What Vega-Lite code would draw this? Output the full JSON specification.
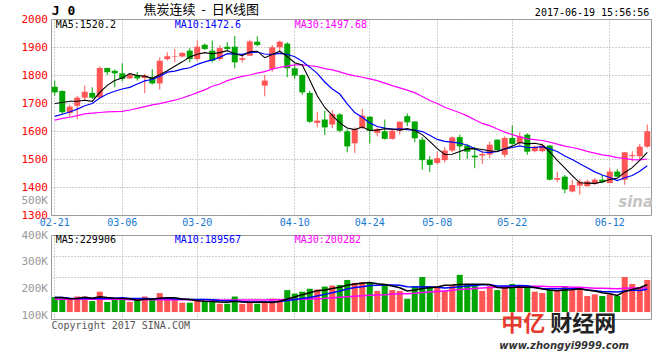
{
"$schema": "https://vega.github.io/schema/vega-lite/v6.json",
"background": "white",
"padding": {"left": 20, "top": 3, "right": 5, "bottom": 5},
"spacing": 20,
"bounds": "flush",
"datasets": {"k": [
{"d":"02-21","o":1758,"h":1780,"l":1726,"c":1738,"m5":1698,"m10":1652,"m30":1639,"v":168000,"v5":166000,"v10":166000,"v30":160000},
{"d":"02-22","o":1743,"h":1745,"l":1658,"c":1667,"m5":1702,"m10":1660,"m30":1645,"v":166000,"v5":166000,"v10":166000,"v30":160000},
{"d":"02-23","o":1664,"h":1693,"l":1651,"c":1687,"m5":1706,"m10":1668,"m30":1649,"v":163000,"v5":162000,"v10":164000,"v30":160000},
{"d":"02-24","o":1690,"h":1726,"l":1643,"c":1719,"m5":1706,"m10":1678,"m30":1655,"v":170000,"v5":163000,"v10":163000,"v30":160000},
{"d":"02-27","o":1719,"h":1762,"l":1708,"c":1740,"m5":1710,"m10":1690,"m30":1661,"v":170000,"v5":167000,"v10":163000,"v30":160000},
{"d":"02-28","o":1736,"h":1756,"l":1714,"c":1719,"m5":1706,"m10":1698,"m30":1664,"v":153000,"v5":164000,"v10":163000,"v30":160000},
{"d":"03-01","o":1720,"h":1831,"l":1718,"c":1825,"m5":1738,"m10":1718,"m30":1666,"v":188000,"v5":169000,"v10":163000,"v30":160000},
{"d":"03-02","o":1825,"h":1826,"l":1800,"c":1810,"m5":1763,"m10":1732,"m30":1668,"v":150000,"v5":166000,"v10":163000,"v30":160000},
{"d":"03-03","o":1815,"h":1820,"l":1756,"c":1806,"m5":1780,"m10":1742,"m30":1669,"v":160000,"v5":164000,"v10":164000,"v30":160000},
{"d":"03-06","o":1806,"h":1842,"l":1777,"c":1786,"m5":1789,"m10":1750,"m30":1670,"v":163000,"v5":163000,"v10":165000,"v30":160000},
{"d":"03-07","o":1788,"h":1807,"l":1786,"c":1800,"m5":1805,"m10":1756,"m30":1675,"v":150000,"v5":162000,"v10":163000,"v30":158000},
{"d":"03-08","o":1800,"h":1810,"l":1780,"c":1788,"m5":1798,"m10":1768,"m30":1681,"v":158000,"v5":156000,"v10":163000,"v30":158000},
{"d":"03-09","o":1789,"h":1804,"l":1735,"c":1798,"m5":1796,"m10":1779,"m30":1687,"v":170000,"v5":160000,"v10":163000,"v30":158000},
{"d":"03-10","o":1792,"h":1821,"l":1766,"c":1770,"m5":1788,"m10":1784,"m30":1693,"v":158000,"v5":160000,"v10":162000,"v30":158000},
{"d":"03-13","o":1770,"h":1863,"l":1748,"c":1851,"m5":1801,"m10":1795,"m30":1698,"v":183000,"v5":164000,"v10":163000,"v30":158000},
{"d":"03-14","o":1857,"h":1881,"l":1851,"c":1867,"m5":1815,"m10":1810,"m30":1704,"v":158000,"v5":165000,"v10":164000,"v30":158000},
{"d":"03-15","o":1866,"h":1893,"l":1845,"c":1868,"m5":1831,"m10":1814,"m30":1710,"v":158000,"v5":165000,"v10":161000,"v30":158000},
{"d":"03-16","o":1866,"h":1881,"l":1863,"c":1879,"m5":1847,"m10":1821,"m30":1718,"v":147000,"v5":161000,"v10":161000,"v30":158000},
{"d":"03-17","o":1887,"h":1896,"l":1845,"c":1857,"m5":1864,"m10":1826,"m30":1727,"v":147000,"v5":159000,"v10":159000,"v30":158000},
{"d":"03-20","o":1857,"h":1923,"l":1851,"c":1901,"m5":1874,"m10":1838,"m30":1737,"v":158000,"v5":154000,"v10":159000,"v30":158000},
{"d":"03-21","o":1908,"h":1912,"l":1890,"c":1893,"m5":1880,"m10":1847,"m30":1747,"v":152000,"v5":152000,"v10":159000,"v30":158000},
{"d":"03-22","o":1887,"h":1923,"l":1845,"c":1851,"m5":1876,"m10":1854,"m30":1760,"v":150000,"v5":151000,"v10":158000,"v30":157000},
{"d":"03-23","o":1857,"h":1905,"l":1851,"c":1896,"m5":1880,"m10":1863,"m30":1768,"v":143000,"v5":150000,"v10":155000,"v30":157000},
{"d":"03-24","o":1901,"h":1917,"l":1887,"c":1893,"m5":1887,"m10":1876,"m30":1780,"v":143000,"v5":149000,"v10":154000,"v30":157000},
{"d":"03-27","o":1901,"h":1940,"l":1824,"c":1845,"m5":1876,"m10":1875,"m30":1788,"v":170000,"v5":152000,"v10":153000,"v30":157000},
{"d":"03-28","o":1854,"h":1871,"l":1845,"c":1860,"m5":1869,"m10":1874,"m30":1795,"v":142000,"v5":150000,"v10":151000,"v30":157000},
{"d":"03-29","o":1869,"h":1926,"l":1867,"c":1920,"m5":1883,"m10":1880,"m30":1800,"v":148000,"v5":149000,"v10":150000,"v30":157000},
{"d":"03-30","o":1919,"h":1938,"l":1902,"c":1907,"m5":1885,"m10":1882,"m30":1807,"v":143000,"v5":149000,"v10":150000,"v30":157000},
{"d":"03-31","o":1762,"h":1800,"l":1724,"c":1780,"m5":1862,"m10":1875,"m30":1812,"v":147000,"v5":150000,"v10":150000,"v30":157000},
{"d":"04-05","o":1822,"h":1907,"l":1812,"c":1899,"m5":1873,"m10":1874,"m30":1821,"v":162000,"v5":148000,"v10":150000,"v30":158000},
{"d":"04-06","o":1899,"h":1923,"l":1881,"c":1919,"m5":1885,"m10":1877,"m30":1827,"v":158000,"v5":152000,"v10":151000,"v30":158000},
{"d":"04-07","o":1912,"h":1917,"l":1792,"c":1824,"m5":1866,"m10":1874,"m30":1832,"v":194000,"v5":161000,"v10":155000,"v30":159000},
{"d":"04-10","o":1824,"h":1842,"l":1786,"c":1798,"m5":1844,"m10":1865,"m30":1836,"v":181000,"v5":168000,"v10":159000,"v30":159000},
{"d":"04-11","o":1800,"h":1802,"l":1729,"c":1738,"m5":1836,"m10":1849,"m30":1836,"v":188000,"v5":177000,"v10":163000,"v30":160000},
{"d":"04-12","o":1736,"h":1744,"l":1629,"c":1633,"m5":1782,"m10":1828,"m30":1833,"v":199000,"v5":184000,"v10":166000,"v30":161000},
{"d":"04-13","o":1629,"h":1669,"l":1613,"c":1637,"m5":1726,"m10":1806,"m30":1830,"v":196000,"v5":192000,"v10":172000,"v30":162000},
{"d":"04-14","o":1641,"h":1672,"l":1586,"c":1613,"m5":1684,"m10":1775,"m30":1823,"v":207000,"v5":194000,"v10":178000,"v30":163000},
{"d":"04-17","o":1623,"h":1675,"l":1610,"c":1661,"m5":1656,"m10":1750,"m30":1818,"v":211000,"v5":200000,"v10":184000,"v30":165000},
{"d":"04-18","o":1659,"h":1664,"l":1595,"c":1601,"m5":1629,"m10":1732,"m30":1811,"v":213000,"v5":205000,"v10":191000,"v30":167000},
{"d":"04-19","o":1599,"h":1607,"l":1524,"c":1545,"m5":1611,"m10":1697,"m30":1803,"v":232000,"v5":212000,"v10":198000,"v30":169000},
{"d":"04-20","o":1556,"h":1613,"l":1522,"c":1607,"m5":1605,"m10":1666,"m30":1797,"v":221000,"v5":217000,"v10":204000,"v30":171000},
{"d":"04-21","o":1611,"h":1679,"l":1607,"c":1655,"m5":1614,"m10":1649,"m30":1792,"v":224000,"v5":220000,"v10":207000,"v30":173000},
{"d":"04-24","o":1651,"h":1652,"l":1556,"c":1601,"m5":1602,"m10":1629,"m30":1786,"v":221000,"v5":222000,"v10":211000,"v30":175000},
{"d":"04-25","o":1593,"h":1613,"l":1581,"c":1607,"m5":1603,"m10":1616,"m30":1780,"v":191000,"v5":218000,"v10":212000,"v30":176000},
{"d":"04-26","o":1599,"h":1641,"l":1569,"c":1572,"m5":1608,"m10":1610,"m30":1771,"v":217000,"v5":215000,"v10":213000,"v30":177000},
{"d":"04-27","o":1572,"h":1604,"l":1569,"c":1601,"m5":1607,"m10":1606,"m30":1762,"v":194000,"v5":209000,"v10":213000,"v30":179000},
{"d":"04-28","o":1601,"h":1634,"l":1587,"c":1633,"m5":1603,"m10":1608,"m30":1754,"v":191000,"v5":203000,"v10":212000,"v30":180000},
{"d":"05-02","o":1653,"h":1662,"l":1617,"c":1631,"m5":1609,"m10":1605,"m30":1746,"v":161000,"v5":191000,"v10":207000,"v30":180000},
{"d":"05-03","o":1634,"h":1635,"l":1560,"c":1574,"m5":1602,"m10":1603,"m30":1737,"v":209000,"v5":194000,"v10":206000,"v30":182000},
{"d":"05-04","o":1569,"h":1578,"l":1462,"c":1496,"m5":1587,"m10":1598,"m30":1723,"v":243000,"v5":200000,"v10":207000,"v30":185000},
{"d":"05-05","o":1498,"h":1510,"l":1453,"c":1479,"m5":1563,"m10":1585,"m30":1709,"v":209000,"v5":203000,"v10":206000,"v30":187000},
{"d":"05-08","o":1486,"h":1527,"l":1480,"c":1503,"m5":1537,"m10":1570,"m30":1698,"v":209000,"v5":206000,"v10":205000,"v30":189000},
{"d":"05-09","o":1496,"h":1542,"l":1488,"c":1530,"m5":1516,"m10":1563,"m30":1685,"v":191000,"v5":212000,"v10":202000,"v30":191000},
{"d":"05-10","o":1530,"h":1581,"l":1524,"c":1577,"m5":1517,"m10":1560,"m30":1675,"v":213000,"v5":213000,"v10":204000,"v30":193000},
{"d":"05-11","o":1578,"h":1587,"l":1496,"c":1545,"m5":1527,"m10":1557,"m30":1665,"v":251000,"v5":215000,"v10":207000,"v30":196000},
{"d":"05-12","o":1548,"h":1554,"l":1500,"c":1526,"m5":1536,"m10":1549,"m30":1654,"v":217000,"v5":216000,"v10":209000,"v30":198000},
{"d":"05-15","o":1512,"h":1544,"l":1467,"c":1506,"m5":1537,"m10":1537,"m30":1640,"v":209000,"v5":216000,"v10":211000,"v30":200000},
{"d":"05-16","o":1512,"h":1530,"l":1482,"c":1518,"m5":1534,"m10":1525,"m30":1627,"v":191000,"v5":216000,"v10":214000,"v30":202000},
{"d":"05-17","o":1516,"h":1562,"l":1503,"c":1551,"m5":1529,"m10":1523,"m30":1619,"v":209000,"v5":215000,"v10":214000,"v30":204000},
{"d":"05-18","o":1569,"h":1570,"l":1524,"c":1532,"m5":1527,"m10":1527,"m30":1607,"v":194000,"v5":204000,"v10":209000,"v30":205000},
{"d":"05-19","o":1515,"h":1581,"l":1506,"c":1575,"m5":1536,"m10":1536,"m30":1596,"v":209000,"v5":202000,"v10":209000,"v30":207000},
{"d":"05-22","o":1575,"h":1619,"l":1548,"c":1554,"m5":1546,"m10":1541,"m30":1587,"v":217000,"v5":204000,"v10":210000,"v30":207000},
{"d":"05-23","o":1557,"h":1595,"l":1550,"c":1581,"m5":1559,"m10":1547,"m30":1579,"v":202000,"v5":206000,"v10":211000,"v30":208000},
{"d":"05-24","o":1587,"h":1592,"l":1515,"c":1526,"m5":1554,"m10":1541,"m30":1572,"v":202000,"v5":205000,"v10":210000,"v30":208000},
{"d":"05-25","o":1528,"h":1548,"l":1524,"c":1544,"m5":1556,"m10":1541,"m30":1569,"v":188000,"v5":204000,"v10":204000,"v30":208000},
{"d":"05-26","o":1528,"h":1556,"l":1524,"c":1548,"m5":1551,"m10":1544,"m30":1566,"v":183000,"v5":198000,"v10":200000,"v30":208000},
{"d":"05-31","o":1548,"h":1550,"l":1424,"c":1426,"m5":1525,"m10":1536,"m30":1560,"v":194000,"v5":194000,"v10":199000,"v30":207000},
{"d":"06-01","o":1426,"h":1455,"l":1417,"c":1432,"m5":1495,"m10":1527,"m30":1553,"v":194000,"v5":192000,"v10":199000,"v30":207000},
{"d":"06-02","o":1437,"h":1443,"l":1378,"c":1391,"m5":1468,"m10":1511,"m30":1546,"v":209000,"v5":194000,"v10":199000,"v30":207000},
{"d":"06-05","o":1384,"h":1425,"l":1381,"c":1407,"m5":1441,"m10":1498,"m30":1541,"v":194000,"v5":195000,"v10":199000,"v30":205000},
{"d":"06-06","o":1405,"h":1429,"l":1373,"c":1419,"m5":1415,"m10":1483,"m30":1535,"v":202000,"v5":199000,"v10":199000,"v30":205000},
{"d":"06-07","o":1403,"h":1426,"l":1401,"c":1420,"m5":1414,"m10":1469,"m30":1527,"v":172000,"v5":194000,"v10":194000,"v30":203000},
{"d":"06-08","o":1411,"h":1431,"l":1407,"c":1426,"m5":1413,"m10":1454,"m30":1521,"v":178000,"v5":191000,"v10":192000,"v30":201000},
{"d":"06-09","o":1426,"h":1443,"l":1414,"c":1417,"m5":1418,"m10":1443,"m30":1515,"v":172000,"v5":184000,"v10":189000,"v30":201000},
{"d":"06-12","o":1414,"h":1467,"l":1413,"c":1455,"m5":1427,"m10":1434,"m30":1511,"v":178000,"v5":180000,"v10":188000,"v30":200000},
{"d":"06-13","o":1455,"h":1464,"l":1435,"c":1437,"m5":1431,"m10":1423,"m30":1505,"v":172000,"v5":174000,"v10":187000,"v30":199000},
{"d":"06-14","o":1426,"h":1525,"l":1408,"c":1524,"m5":1452,"m10":1433,"m30":1502,"v":243000,"v5":189000,"v10":191000,"v30":201000},
{"d":"06-15","o":1510,"h":1528,"l":1491,"c":1514,"m5":1469,"m10":1441,"m30":1498,"v":217000,"v5":196000,"v10":194000,"v30":202000},
{"d":"06-16","o":1510,"h":1554,"l":1498,"c":1544,"m5":1495,"m10":1456,"m30":1497,"v":206000,"v5":203000,"v10":193000,"v30":202000},
{"d":"06-19","o":1544,"h":1623,"l":1540,"c":1599,"m5":1524,"m10":1476,"m30":1500,"v":232000,"v5":214000,"v10":197000,"v30":202000}
]},
"vconcat": [
{
"width": 600, "height": 196,
"data": {"name": "k"},
"layer": [
{"mark": {"type": "rule", "strokeWidth": 1},
 "encoding": {
  "x": {"field": "d", "type": "ordinal", "title": null, "scale": {"type": "band", "paddingInner": 0.2, "paddingOuter": 0.1},
        "axis": {"values": ["02-21","03-06","03-20","04-10","04-24","05-08","05-22","06-12"], "labelColor": "#1778d2", "labelFontSize": 10, "labelPadding": 2, "labelAngle": 0, "labelOverlap": false, "grid": true, "bandPosition": 0.5}},
  "y": {"field": "l", "type": "quantitative", "title": null, "scale": {"domain": [1300, 2000], "zero": false, "nice": false},
        "axis": {"values": [1300,1400,1500,1600,1700,1800,1900,2000], "tickCount": 20, "format": "d", "labelOverlap": false, "labelColor": "#ff0000", "labelFontSize": 11, "labelPadding": 3.5, "grid": true}},
  "y2": {"field": "h"},
  "color": {"condition": {"test": "datum.c >= datum.o", "value": "#ff5555"}, "value": "#00a600"}
 }},
{"mark": {"type": "bar"},
 "encoding": {
  "x": {"field": "d", "type": "ordinal", "title": null},
  "y": {"field": "o", "type": "quantitative", "title": null},
  "y2": {"field": "c"},
  "color": {"condition": {"test": "datum.c >= datum.o", "value": "#ff5555"}, "value": "#00a600"}
 }},
{"mark": {"type": "line", "color": "#ff00ff", "strokeWidth": 1.2},
 "encoding": {"x": {"field": "d", "type": "ordinal", "title": null}, "y": {"field": "m30", "type": "quantitative", "title": null}}},
{"mark": {"type": "line", "color": "#0000ff", "strokeWidth": 1.2},
 "encoding": {"x": {"field": "d", "type": "ordinal", "title": null}, "y": {"field": "m10", "type": "quantitative", "title": null}}},
{"mark": {"type": "line", "color": "#000000", "strokeWidth": 1.1},
 "encoding": {"x": {"field": "d", "type": "ordinal", "title": null}, "y": {"field": "m5", "type": "quantitative", "title": null}}},
{"data": {"values": [{}]},
 "mark": {"type": "text", "align": "left", "baseline": "alphabetic", "dx": -3, "dy": -4, "font": "DejaVu Sans Mono", "fontWeight": "bold", "fontSize": 13, "color": "#000"},
 "encoding": {"x": {"datum": "02-21", "type": "ordinal"}, "y": {"datum": 2000, "type": "quantitative"}, "text": {"value": "J 0"}}},
{"data": {"values": [{}]},
 "mark": {"type": "text", "align": "center", "baseline": "alphabetic", "dx": 4, "dy": -5, "font": "Noto Sans CJK SC", "fontSize": 13, "color": "#000"},
 "encoding": {"x": {"datum": "03-20", "type": "ordinal"}, "y": {"datum": 2000, "type": "quantitative"}, "text": {"value": "焦炭连续\u00a0\u00a0-\u00a0\u00a0日K线图"}}},
{"data": {"values": [{}]},
 "mark": {"type": "text", "align": "right", "baseline": "alphabetic", "dx": 2, "dy": -3, "font": "DejaVu Sans Mono", "fontSize": 10, "color": "#000"},
 "encoding": {"x": {"datum": "06-19", "type": "ordinal"}, "y": {"datum": 2000, "type": "quantitative"}, "text": {"value": "2017-06-19 15:56:56"}}},
{"data": {"values": [{}]},
 "mark": {"type": "text", "align": "left", "baseline": "alphabetic", "dx": 1, "dy": 9, "font": "DejaVu Sans Mono", "fontSize": 10, "color": "#000"},
 "encoding": {"x": {"datum": "02-21", "type": "ordinal"}, "y": {"datum": 2000, "type": "quantitative"}, "text": {"value": "MA5:1520.2"}}},
{"data": {"values": [{}]},
 "mark": {"type": "text", "align": "left", "baseline": "alphabetic", "dx": 0, "dy": 9, "font": "DejaVu Sans Mono", "fontSize": 10, "color": "#0000ff"},
 "encoding": {"x": {"datum": "03-15", "type": "ordinal"}, "y": {"datum": 2000, "type": "quantitative"}, "text": {"value": "MA10:1472.6"}}},
{"data": {"values": [{}]},
 "mark": {"type": "text", "align": "left", "baseline": "alphabetic", "dx": 0, "dy": 9, "font": "DejaVu Sans Mono", "fontSize": 10, "color": "#ff00ff"},
 "encoding": {"x": {"datum": "04-10", "type": "ordinal"}, "y": {"datum": 2000, "type": "quantitative"}, "text": {"value": "MA30:1497.68"}}},
{"data": {"values": [{}]},
 "mark": {"type": "text", "align": "right", "baseline": "middle", "dx": -6.75, "font": "DejaVu Sans Mono", "fontSize": 11, "color": "#999999"},
 "encoding": {"x": {"datum": "02-21", "type": "ordinal"}, "y": {"datum": 1350, "type": "quantitative"}, "text": {"value": "500K"}}},
{"data": {"values": [{}]},
 "mark": {"type": "text", "align": "left", "baseline": "alphabetic", "dx": 1, "font": "DejaVu Sans", "fontStyle": "italic", "fontWeight": "bold", "fontSize": 15, "color": "#c4c4c4"},
 "encoding": {"x": {"datum": "06-13", "type": "ordinal"}, "y": {"datum": 1330, "type": "quantitative"}, "text": {"value": "sina"}}}
]
},
{
"width": 600, "height": 84,
"data": {"name": "k"},
"resolve": {"axis": {"y": "independent"}},
"layer": [
{"layer": [
 {"mark": {"type": "bar"},
  "encoding": {
   "x": {"field": "d", "type": "ordinal", "title": "Copyright 2017 SINA.COM", "scale": {"type": "band", "paddingInner": 0.2, "paddingOuter": 0.1},
         "axis": {"title": "Copyright 2017 SINA.COM", "values": ["02-21","03-06","03-20","04-10","04-24","05-08","05-22","06-12"], "labels": false, "grid": true, "bandPosition": 0.5, "titleAnchor": "start", "titleAlign": "left", "titleBaseline": "top", "titlePadding": 1, "titleFont": "DejaVu Sans Mono", "titleFontSize": 10, "titleFontWeight": "normal", "titleColor": "#555555"}},
   "y": {"field": "v", "type": "quantitative", "title": null, "scale": {"domain": [86000, 400000], "zero": false, "nice": false},
         "axis": {"orient": "left", "values": [100000, 200000, 300000, 400000], "tickCount": 20, "labelExpr": "(datum.value / 1000) + 'K'", "labelOverlap": false, "labelColor": "#999999", "labelFontSize": 11, "labelPadding": 3.5, "grid": false}},
   "y2": {"datum": 112000},
   "color": {"condition": {"test": "datum.c >= datum.o", "value": "#ff5555"}, "value": "#00a600"}
  }},
 {"data": {"values": [{}]},
  "mark": {"type": "text", "align": "left", "baseline": "alphabetic", "dx": 1, "dy": 8, "font": "DejaVu Sans Mono", "fontSize": 10, "color": "#000"},
  "encoding": {"x": {"datum": "02-21", "type": "ordinal", "title": "Copyright 2017 SINA.COM"}, "y": {"datum": 400000, "type": "quantitative"}, "text": {"value": "MA5:229906"}}},
 {"data": {"values": [{}]},
  "mark": {"type": "text", "align": "left", "baseline": "alphabetic", "dx": 0, "dy": 8, "font": "DejaVu Sans Mono", "fontSize": 10, "color": "#0000ff"},
  "encoding": {"x": {"datum": "03-15", "type": "ordinal", "title": "Copyright 2017 SINA.COM"}, "y": {"datum": 400000, "type": "quantitative"}, "text": {"value": "MA10:189567"}}},
 {"data": {"values": [{}]},
  "mark": {"type": "text", "align": "left", "baseline": "alphabetic", "dx": 0, "dy": 8, "font": "DejaVu Sans Mono", "fontSize": 10, "color": "#ff00ff"},
  "encoding": {"x": {"datum": "04-10", "type": "ordinal", "title": "Copyright 2017 SINA.COM"}, "y": {"datum": 400000, "type": "quantitative"}, "text": {"value": "MA30:200282"}}},
 {"data": {"values": [{}]},
  "mark": {"type": "text", "align": "left", "baseline": "middle", "dx": 4, "font": "Noto Sans CJK SC", "fontWeight": "bold", "fontSize": 22, "color": "#e63a2e"},
  "encoding": {"x": {"datum": "05-18", "type": "ordinal", "title": "Copyright 2017 SINA.COM"}, "y": {"datum": 68000, "type": "quantitative"}, "text": {"value": "中亿"}}},
 {"data": {"values": [{}]},
  "mark": {"type": "text", "align": "left", "baseline": "middle", "dx": -22, "font": "Noto Sans CJK SC", "fontWeight": "bold", "fontSize": 22, "color": "#222222"},
  "encoding": {"x": {"datum": "06-05", "type": "ordinal", "title": "Copyright 2017 SINA.COM"}, "y": {"datum": 68000, "type": "quantitative"}, "text": {"value": "财经网"}}},
 {"data": {"values": [{}]},
  "mark": {"type": "text", "align": "left", "baseline": "middle", "dx": 2, "font": "DejaVu Sans", "fontStyle": "italic", "fontWeight": "bold", "fontSize": 10, "color": "#333333"},
  "encoding": {"x": {"datum": "05-18", "type": "ordinal", "title": "Copyright 2017 SINA.COM"}, "y": {"datum": -16000, "type": "quantitative"}, "text": {"value": "www.zhongyi9999.com"}}}
]},
{"layer": [
 {"mark": {"type": "line", "color": "#ff00ff", "strokeWidth": 1.5},
  "encoding": {"x": {"field": "d", "type": "ordinal", "title": "Copyright 2017 SINA.COM"}, "y": {"field": "v30", "type": "quantitative", "title": null,
    "axis": {"orient": "right", "values": [164500, 243000, 321500], "tickCount": 20, "labels": false, "grid": true}}}},
 {"mark": {"type": "line", "color": "#0000ff", "strokeWidth": 1.5},
  "encoding": {"x": {"field": "d", "type": "ordinal", "title": "Copyright 2017 SINA.COM"}, "y": {"field": "v10", "type": "quantitative", "title": null}}},
 {"mark": {"type": "line", "color": "#000000", "strokeWidth": 1.5},
  "encoding": {"x": {"field": "d", "type": "ordinal", "title": "Copyright 2017 SINA.COM"}, "y": {"field": "v5", "type": "quantitative", "title": null}}}
]}
]
}
],
"config": {
 "view": {"stroke": "#999999", "strokeWidth": 1},
 "axis": {"labelFont": "DejaVu Sans Mono", "ticks": false, "domain": false, "gridColor": "#a0a0a0", "gridDash": [1, 2], "gridWidth": 1}
}
}
